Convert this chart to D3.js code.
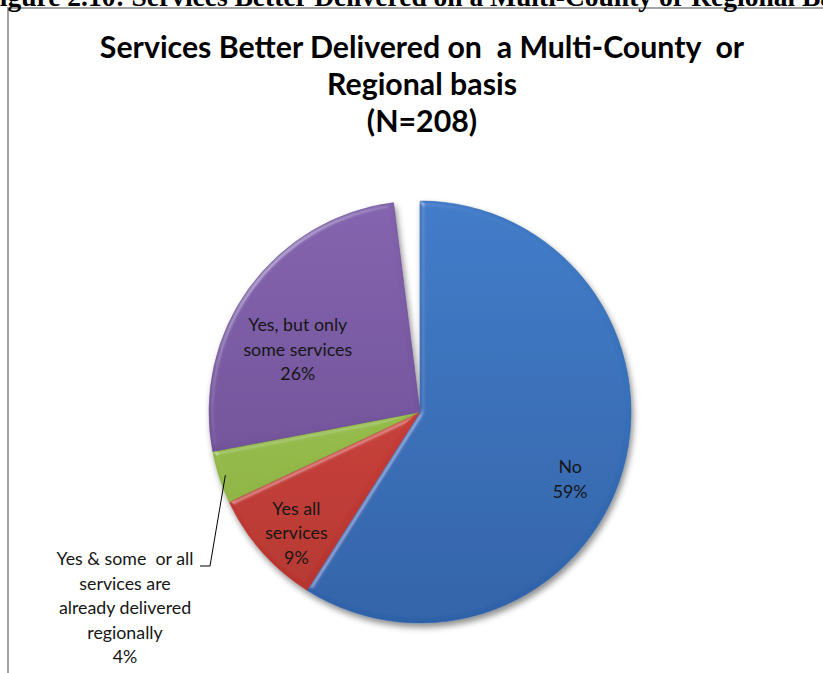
<!DOCTYPE html>
<html>
<head>
<meta charset="utf-8">
<script src="https://cdn.jsdelivr.net/npm/d3@7"></script>
<style>
  html, body { margin: 0; padding: 0; background: #fff; }
  svg { display: block; }
  text { white-space: pre; }
</style>
</head>
<body>
<svg id="chart" width="823" height="673"></svg>
<script>
// ---- data ----
const categories = ["No", "Yes all services", "Yes & some or all services are already delivered regionally", "Yes, but only some services"];
const percents = [59, 9, 4, 26];
const labelLines = [
  ["No", "59%"],
  ["Yes all", "services", "9%"],
  ["Yes & some  or all", "services are", "already delivered", "regionally", "4%"],
  ["Yes, but only", "some services", "26%"]
];
const titleLines = ["Services Better Delivered on  a Multi-County  or", "Regional basis", "(N=208)"];
const captionText = "Figure 2.10: Services Better Delivered on a Multi-County or Regional Basis";

// ---- styling ----
const sliceColors = [
  ["#3f7bc8", "#2f62a8"],
  ["#d9473f", "#b3332d"],
  ["#a5ca57", "#86ad3d"],
  ["#8262ad", "#68498f"]
];
const font = "Lato, 'Open Sans', sans-serif";

const svg = d3.select("#chart");
const defs = svg.append("defs");

// frame of the chart area
svg.append("rect")
  .attr("x", 8).attr("y", 8)
  .attr("width", 900).attr("height", 800)
  .attr("fill", "#fff")
  .attr("stroke", "#a3a3a3")
  .attr("stroke-width", 2);

// figure caption, running off the top of the page
svg.append("text")
  .attr("x", -17).attr("y", 6)
  .attr("font-family", "'Liberation Serif', 'Times New Roman', serif")
  .attr("font-weight", "bold")
  .attr("font-size", 27.5)
  .attr("fill", "#000")
  .text(captionText);

// title
const title = svg.append("g").attr("font-family", font).attr("font-weight", "bold")
  .attr("font-size", 30.3).attr("fill", "#000").attr("text-anchor", "middle");
titleLines.forEach((t, i) => {
  title.append("text").attr("x", 422).attr("y", 58 + i * 37).text(t);
});

// ---- pie ----
const cx = 420, cy = 412, R = 211;
const total = 100;
const pie = d3.pie().sort(null).value(d => d)
  .startAngle(0)
  .endAngle(2 * Math.PI * d3.sum(percents) / total);
const arcs = pie(percents);
const arc = d3.arc().innerRadius(0).outerRadius(R);

// gradients
sliceColors.forEach((c, i) => {
  const g = defs.append("linearGradient").attr("id", "grad" + i)
    .attr("gradientUnits", "userSpaceOnUse")
    .attr("x1", 0).attr("y1", -R).attr("x2", 0).attr("y2", R);
  g.append("stop").attr("offset", "0%").attr("stop-color", c[0]);
  g.append("stop").attr("offset", "100%").attr("stop-color", c[1]);
});

// soft bevel on slice edges
const bevel = defs.append("filter").attr("id", "bevel")
  .attr("x", "-10%").attr("y", "-10%").attr("width", "120%").attr("height", "120%");
bevel.append("feGaussianBlur").attr("in", "SourceAlpha").attr("stdDeviation", 2.5).attr("result", "blur");
const spec = bevel.append("feSpecularLighting").attr("in", "blur")
  .attr("surfaceScale", 3).attr("specularConstant", 0.6)
  .attr("specularExponent", 30).attr("lighting-color", "#ffffff").attr("result", "spec");
spec.append("feDistantLight").attr("azimuth", 225).attr("elevation", 35);
bevel.append("feComposite").attr("in", "spec").attr("in2", "SourceAlpha").attr("operator", "in").attr("result", "specIn");
bevel.append("feComposite").attr("in", "SourceGraphic").attr("in2", "specIn")
  .attr("operator", "arithmetic").attr("k1", 0).attr("k2", 1).attr("k3", 0.4).attr("k4", 0);

// drop shadow for the whole pie
const shadow = defs.append("filter").attr("id", "shadow")
  .attr("x", "-20%").attr("y", "-20%").attr("width", "140%").attr("height", "140%");
shadow.append("feDropShadow").attr("dx", 2).attr("dy", 4).attr("stdDeviation", 3)
  .attr("flood-color", "#000").attr("flood-opacity", 0.45);

const pieG = svg.append("g").attr("transform", `translate(${cx},${cy})`);
const shadowG = pieG.append("g").attr("filter", "url(#shadow)");
shadowG.selectAll("path.slice").data(arcs).join("path")
  .attr("class", "slice")
  .attr("d", arc)
  .attr("fill", (d, i) => `url(#grad${i})`)
  .attr("stroke", (d, i) => sliceColors[i][1])
  .attr("stroke-width", 0.6)
  .attr("filter", "url(#bevel)");

// ---- labels ----
// placement of each label block: polar offset from the slice middle (deg) and radius fraction
const labelPlace = [
  { da: 8, rf: 0.78 },
  { da: -3, rf: 0.82 },
  null,
  { da: -9, rf: 0.65 }
];
const lineH = 24.5;
const labelG = svg.append("g").attr("font-family", font).attr("font-size", 17.8)
  .attr("fill", "#161616").attr("text-anchor", "middle");

arcs.forEach((a, i) => {
  const lines = labelLines[i];
  let x, y;
  if (labelPlace[i]) {
    const mid = (a.startAngle + a.endAngle) / 2 + labelPlace[i].da * Math.PI / 180;
    const rr = R * labelPlace[i].rf;
    x = cx + rr * Math.sin(mid);
    y = cy - rr * Math.cos(mid);
  } else {
    x = 125; y = 608;
  }
  const y0 = y - (lines.length - 1) * lineH / 2;
  lines.forEach((t, j) => {
    labelG.append("text").attr("x", x).attr("y", y0 + j * lineH).attr("dy", "0.35em").text(t);
  });
  if (!labelPlace[i]) {
    // leader line from the outside label to its slice
    const mid = (a.startAngle + a.endAngle) / 2;
    const rr = R * 0.97;
    const px = cx + rr * Math.sin(mid), py = cy - rr * Math.cos(mid);
    const ly = y0 + 7;
    svg.append("path")
      .attr("d", `M${x + 75},${ly} H${x + 85} L${px},${py}`)
      .attr("fill", "none").attr("stroke", "#000").attr("stroke-width", 1);
  }
});
</script>
</body>
</html>
